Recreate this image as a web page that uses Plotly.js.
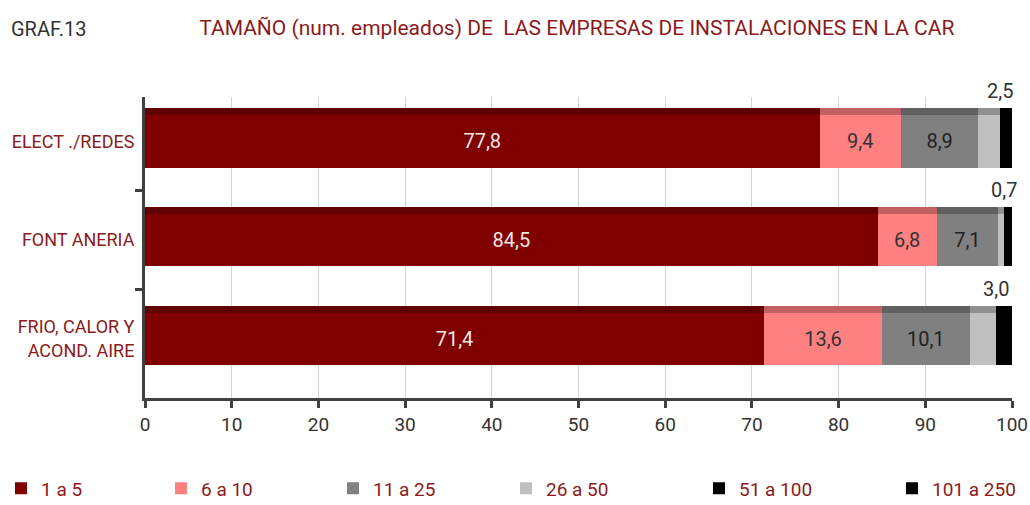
<!DOCTYPE html>
<html>
<head>
<meta charset="utf-8">
<script src="https://cdn.plot.ly/plotly-3.0.1.min.js"></script>
<style>
  body { margin: 0; background: #fff; }
  #graf { width: 1030px; height: 505px; }
</style>
</head>
<body>
<div id="graf"></div>
<script>
var sectores = ['ELECT ./REDES', 'FONT ANERIA', 'FRIO, CALOR Y<br>ACOND. AIRE'];

var tramos = ['1 a 5', '6 a 10', '11 a 25', '26 a 50', '51 a 100', '101 a 250'];

var v1a5    = [77.8, 84.5, 71.4];
var v6a10   = [9.4, 6.8, 13.6];
var v11a25  = [8.9, 7.1, 10.1];
var v26a50  = [2.5, 0.7, 3.0];
var v51a100 = [0.9, 0.5, 1.2];
var v101a250 = [0.5, 0.4, 0.7];

var colores = ['#800000', '#ff8080', '#808080', '#c0c0c0', '#000000', '#000000'];
var colTapa = ['#600000', '#c06060', '#606060', '#909090', '#000000', '#000000'];
var colTexto = ['#f4e6e6', '#333333', '#222222', '#333333', '#ffffff', '#ffffff'];

// posicion (px) de cada entrada de la leyenda
var leyendaPx = [1, 161, 333, 506, 699, 892];

var series = [v1a5, v6a10, v11a25, v26a50, v51a100, v101a250];
var fuente = 'Roboto, "Liberation Sans", sans-serif';
var rojo = '#8b1a1a';

var data = [];

// cara frontal de cada segmento
series.forEach(function (vals, i) {
    data.push({
        type: 'bar',
        orientation: 'h',
        name: tramos[i],
        legend: i === 0 ? 'legend' : 'legend' + (i + 1),
        y: sectores,
        x: vals,
        offset: -0.265,
        width: 0.53,
        marker: { color: colores[i], line: { width: 0 } },
        texttemplate: i < 3 ? '%{x:.1f}' : '',
        textposition: i < 3 ? 'inside' : 'none',
        insidetextanchor: 'middle',
        constraintext: 'none',
        textfont: { family: fuente, size: 20, color: colTexto[i] },
        hoverinfo: 'skip'
    });
});

// franja superior (efecto 3D) en un eje superpuesto
series.forEach(function (vals, i) {
    data.push({
        type: 'bar',
        orientation: 'h',
        y: sectores,
        x: vals,
        yaxis: 'y2',
        offset: -0.335,
        width: 0.07,
        marker: { color: colTapa[i], line: { width: 0 } },
        showlegend: false,
        hoverinfo: 'skip'
    });
});

// etiquetas del tramo 26 a 50 encima de la barra
var anots = sectores.map(function (s, k) {
    var fin = v1a5[k] + v6a10[k] + v11a25[k] + v26a50[k];
    return {
        x: fin, y: s, xref: 'x', yref: 'y',
        text: v26a50[k].toFixed(1).replace('.', ','),
        showarrow: false, xanchor: 'center', yanchor: 'bottom', yshift: 36,
        font: { family: fuente, size: 20, color: '#333333' }
    };
});
anots.push({
    text: 'GRAF.13', xref: 'paper', yref: 'paper', x: -0.157, y: 1.225,
    xanchor: 'left', yanchor: 'middle', showarrow: false,
    font: { family: fuente, size: 20, color: '#333333' }
});

var layout = {
    width: 1030,
    height: 505,
    paper_bgcolor: '#ffffff',
    plot_bgcolor: '#ffffff',
    barmode: 'stack',
    separators: ',.',
    margin: { l: 145, r: 18, t: 97, b: 107, autoexpand: false },
    title: {
        text: 'TAMAÑO (num. empleados) DE  LAS EMPRESAS DE INSTALACIONES EN LA CAR',
        font: { family: fuente, size: 21, color: rojo },
        x: 0.56, xref: 'container', xanchor: 'center',
        y: 0.945, yref: 'container', yanchor: 'middle'
    },
    xaxis: {
        range: [0, 100],
        dtick: 10,
        showgrid: true,
        gridcolor: '#d4d4d4',
        gridwidth: 1,
        zeroline: false,
        showline: true,
        linecolor: '#404040',
        linewidth: 3,
        ticks: 'outside',
        ticklen: 7,
        tickwidth: 3,
        tickcolor: '#404040',
        ticklabeloverflow: 'allow',
        tickfont: { family: fuente, size: 19, color: '#333333' }
    },
    yaxis: {
        type: 'category',
        categoryorder: 'array',
        categoryarray: sectores,
        range: [2.6, -0.45],
        showgrid: false,
        zeroline: false,
        showline: true,
        linecolor: '#404040',
        linewidth: 3,
        ticks: 'outside',
        tickson: 'boundaries',
        ticklen: 7,
        tickwidth: 3,
        tickcolor: '#404040',
        ticklabelstandoff: 4,
        tickfont: { family: fuente, size: 18, color: rojo }
    },
    yaxis2: {
        type: 'category',
        categoryorder: 'array',
        categoryarray: sectores,
        range: [2.6, -0.45],
        overlaying: 'y',
        visible: false,
        showgrid: false
    },
    showlegend: true,
    annotations: anots
};

// una leyenda por serie, repartidas como en el original
leyendaPx.forEach(function (px, i) {
    var key = i === 0 ? 'legend' : 'legend' + (i + 1);
    layout[key] = {
        orientation: 'h',
        x: (px - 145) / 867, xanchor: 'left',
        y: -0.3, yanchor: 'middle',
        entrywidth: 95,
        entrywidthmode: 'pixels',
        font: { family: fuente, size: 19, color: rojo },
        bgcolor: 'rgba(0,0,0,0)'
    };
});

Plotly.newPlot('graf', data, layout, { displayModeBar: false, responsive: false });
</script>
</body>
</html>
